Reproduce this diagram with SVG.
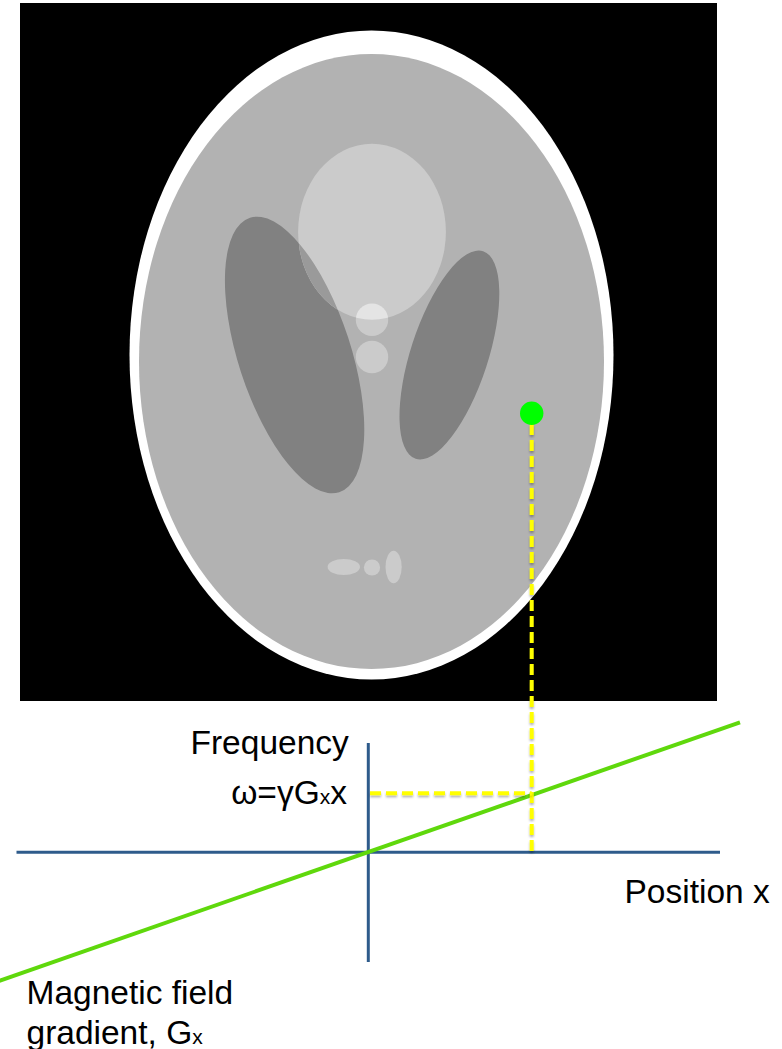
<svg xmlns="http://www.w3.org/2000/svg" width="782" height="1049" viewBox="0 0 782 1049">
  <style>
    .lbl { font-family: "Liberation Sans", Arial, Helvetica, sans-serif; font-size: 33.5px; fill: #000; }
    .sub { font-size: 21px; }
    .axis { stroke: #2e5b8b; stroke-width: 3; fill: none; }
    .guide { stroke: #ffff00; stroke-width: 4; stroke-dasharray: 11 5; fill: none; filter: url(#soft); }
    .grad { stroke: #5fd80c; stroke-width: 4; fill: none; }
  </style>
  <defs>
    <!-- user-space region so straight horizontal/vertical lines keep their shadow -->
    <filter id="soft" filterUnits="userSpaceOnUse" x="0" y="0" width="782" height="1049">
      <feDropShadow dx="0" dy="2" stdDeviation="1.3" flood-color="#000" flood-opacity="0.3"/>
    </filter>
    <!-- ellipse shapes reused for overlap clipping -->
    <clipPath id="clipLeftLobe">
      <ellipse cx="0" cy="0" rx="56.3" ry="144.3" transform="translate(294.6 355) rotate(-18)"/>
    </clipPath>
    <clipPath id="clipRightLobe">
      <ellipse cx="0" cy="0" rx="38.7" ry="109.1" transform="translate(449.4 355) rotate(18)"/>
    </clipPath>
    <clipPath id="clipTop">
      <ellipse cx="372" cy="231.8" rx="73.9" ry="88"/>
    </clipPath>
  </defs>

  <!-- Shepp-Logan head phantom -->
  <g id="phantom">
    <rect x="20" y="3" width="697" height="698" fill="#000"/>
    <ellipse cx="371.5" cy="355" rx="242" ry="324.5" fill="#ffffff"/>
    <ellipse cx="371.5" cy="361.5" rx="232.5" ry="307.6" fill="#b2b2b2"/>
    <!-- dark lobes -->
    <ellipse cx="0" cy="0" rx="56.3" ry="144.3" transform="translate(294.6 355) rotate(-18)" fill="#818181"/>
    <ellipse cx="0" cy="0" rx="38.7" ry="109.1" transform="translate(449.4 355) rotate(18)" fill="#818181"/>
    <!-- bright upper ellipse and its overlaps with the lobes -->
    <ellipse cx="372" cy="231.8" rx="73.9" ry="88" fill="#cbcbcb"/>
    <ellipse cx="372" cy="231.8" rx="73.9" ry="88" fill="#9a9a9a" clip-path="url(#clipLeftLobe)"/>
    <ellipse cx="372" cy="231.8" rx="73.9" ry="88" fill="#9a9a9a" clip-path="url(#clipRightLobe)"/>
    <!-- small central circles -->
    <circle cx="372" cy="319.8" r="16.2" fill="#cbcbcb"/>
    <circle cx="372" cy="319.8" r="16.2" fill="#e4e4e4" clip-path="url(#clipTop)"/>
    <circle cx="372" cy="357" r="16.2" fill="#cbcbcb"/>
    <!-- lower small features -->
    <ellipse cx="343.8" cy="567" rx="16.2" ry="8.1" fill="#cbcbcb"/>
    <circle cx="372" cy="567.5" r="8.1" fill="#cbcbcb"/>
    <ellipse cx="393.6" cy="567" rx="8.1" ry="16.2" fill="#cbcbcb"/>
  </g>

  <!-- frequency / position axes -->
  <g id="axes">
    <line class="axis" x1="16.5" y1="852.3" x2="720" y2="852.3"/>
    <line class="axis" x1="368.3" y1="743" x2="368.3" y2="962"/>
  </g>

  <!-- gradient line through the origin -->
  <g id="gradient-line">
    <line class="grad" x1="-2" y1="981.3" x2="740" y2="722.3"/>
  </g>

  <!-- projection guides from the sample point -->
  <g id="connectors">
    <line class="guide" x1="531.7" y1="424" x2="531.7" y2="852"/>
    <line class="guide" x1="370" y1="793.3" x2="531.7" y2="793.3"/>
  </g>

  <g id="sample-point">
    <circle cx="531.7" cy="413.3" r="11.7" fill="#00ff00"/>
  </g>

  <g id="labels">
    <text class="lbl" x="190.5" y="754">Frequency</text>
    <text class="lbl" x="347" y="804" text-anchor="end">ω=γG<tspan class="sub">x</tspan>x</text>
    <text class="lbl" x="624.5" y="902.5">Position x</text>
    <text class="lbl" x="26.5" y="1003.5">Magnetic field</text>
    <text class="lbl" x="26.5" y="1043.5">gradient, G<tspan class="sub">x</tspan></text>
  </g>
</svg>
